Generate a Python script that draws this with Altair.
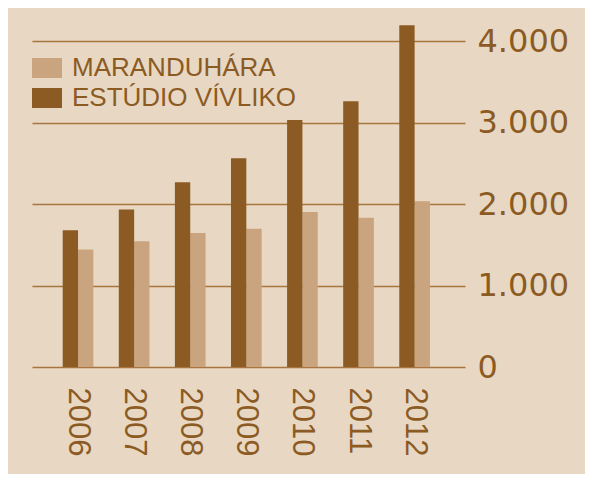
import altair as alt
import pandas as pd

years = ["2006", "2007", "2008", "2009", "2010", "2011", "2012"]
maranduhara = [1445, 1545, 1645, 1700, 1905, 1835, 2035]
estudio = [1680, 1935, 2270, 2565, 3035, 3265, 4200]
series = ["MARANDUHÁRA", "ESTÚDIO VÍVLIKO"]
y_ticks = [0, 1000, 2000, 3000, 4000]

rows = []
for i, y in enumerate(years):
    rows.append({"year": y, "series": series[0], "value": maranduhara[i]})
    rows.append({"year": y, "series": series[1], "value": estudio[i]})
df = pd.DataFrame(rows)

BG = "#e8d8c3"
DARK = "#8c5b24"
LIGHT = "#c9a47e"
TEXT = "#8c5b24"
GRID = "#a87440"

chart = alt.Chart(df).mark_bar().encode(
    x=alt.X("year:N", sort=years,
            scale=alt.Scale(paddingInner=0.453, paddingOuter=0.586, align=0.467),
            axis=alt.Axis(title=None, labelAngle=90, domain=False, ticks=False,
                          labelPadding=20, labelFont="Liberation Sans",
                          labelFontSize=31, labelColor=TEXT, grid=False)),
    xOffset=alt.XOffset("series:N", sort=[series[1], series[0]],
                        scale=alt.Scale(paddingInner=0, paddingOuter=0)),
    y=alt.Y("value:Q", scale=alt.Scale(domain=[0, 4300], nice=False),
            axis=alt.Axis(title=None, orient="right", values=y_ticks,
                          domain=False, ticks=False, labelPadding=12,
                          labelFont="DejaVu Sans", labelFontSize=32,
                          labelColor=TEXT, grid=True, gridColor=GRID,
                          gridWidth=1.5, gridOpacity=1,
                          labelExpr="replace(format(datum.value, ','), ',', '.')")),
    color=alt.Color("series:N",
                    scale=alt.Scale(domain=series, range=[LIGHT, DARK]),
                    legend=alt.Legend(title=None, orient="none", legendX=2, legendY=38,
                                      symbolType="M-1.5,-1H1.5V1H-1.5Z",
                                      symbolSize=400, symbolStrokeWidth=0,
                                      symbolOpacity=1,
                                      labelFont="Liberation Sans", labelFontSize=26,
                                      labelColor=TEXT, labelOffset=12,
                                      rowPadding=4, padding=0, labelLimit=400)),
).properties(
    width=433, height=350, background=BG,
    padding={"left": 24, "top": 9, "right": 16, "bottom": 18},
).configure_view(stroke=None)

chart.save("out.html", embed_options={"renderer": "svg", "actions": False})
